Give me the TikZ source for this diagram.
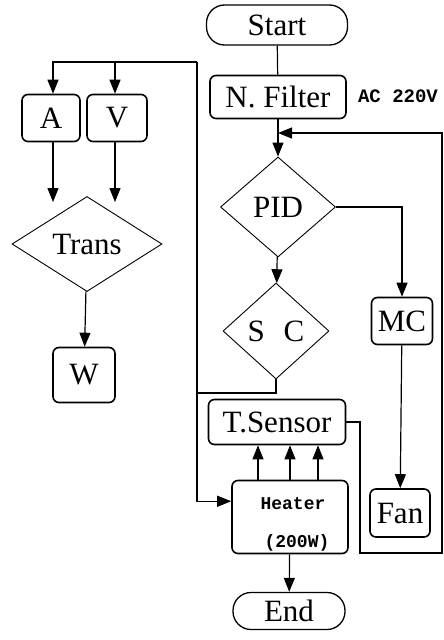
\documentclass[tikz,border=0pt]{standalone}
\usepackage{fontspec}
\setmainfont{Liberation Serif}
\setmonofont{Liberation Mono}
\usetikzlibrary{arrows.meta,shapes.geometric,calc}

\begin{document}
\begin{tikzpicture}[x=1pt,y=-1pt,
    every node/.style={font=\fontsize{31}{33}\selectfont},
    box/.style={draw,line width=1.6pt,rounded corners=6pt,inner sep=0pt},
    term/.style={draw,line width=1.3pt,rounded corners=18pt,inner sep=0pt},
    dec/.style={draw,diamond,line width=0.9pt,inner sep=0pt},
    arr/.style={line width=1.2pt,-{Triangle[length=14pt,width=11pt]}},
    lnk/.style={line width=1.2pt}]
  \useasboundingbox (0,0) rectangle (444,640);
  % main column
  \node[term,minimum width=141pt,minimum height=40pt] (start) at (277,25) {Start};
  \node[box,minimum width=136pt,minimum height=43pt] (filter) at (278,97) {N. Filter};
  \node[font=\fontsize{19}{21}\selectfont\ttfamily\bfseries] (ac) at (398,96) {AC 220V};
  \node[dec,minimum width=115pt,minimum height=100pt] (pid) at (278,207) {PID};
  \node[dec,minimum width=106pt,minimum height=96pt] (sc) at (276,331) {S\hspace{0.6em}C};
  \node[box,minimum width=137pt,minimum height=45pt] (sensor) at (277,422) {T.Sensor};
  \node[box,minimum width=116pt,minimum height=73pt,align=left,
        font=\fontsize{18}{38}\selectfont\ttfamily\bfseries] (heater) at (290,517)
    {\rule{0pt}{27pt}\hspace*{10pt}Heater\\\hspace*{14pt}(200W)};
  \node[term,minimum width=112pt,minimum height=37pt] (end) at (289,611) {End};
  % right branch
  \node[box,minimum width=61pt,minimum height=47pt] (mc) at (402,321) {MC};
  \node[box,minimum width=60pt,minimum height=48pt] (fan) at (400,513) {Fan};
  % left branch
  \node[box,minimum width=58pt,minimum height=47pt] (a) at (51,118) {A};
  \node[box,minimum width=60pt,minimum height=47pt] (v) at (117,118) {V};
  \node[dec,minimum width=150pt,minimum height=95pt] (trans) at (87,244) {Trans};
  \node[box,minimum width=62pt,minimum height=55pt] (w) at (84,375) {W};

  \coordinate (topL) at (197,62);
  \coordinate (join) at (197,393);
  \coordinate (fbA) at (360,553);
  \coordinate (fbB) at (442,553);
  \coordinate (fbC) at (442,133);

  \draw[lnk] (start) -- (filter);
  \draw[arr] (filter) -- (pid);
  \draw[arr] (pid) -- (sc);
  \draw[arr] (pid.east) -| (mc.north);
  \draw[arr] (mc) -- (fan);
  \draw[lnk] (sc.south) |- (join);
  \draw[arr] (topL) |- (heater.165);
  \draw[arr] (topL) -| ($(a.north)+(2,0)$);
  \draw[arr] ($(v.north |- topL)+(-2,0)$) -- ($(v.north)+(-2,0)$);
  \draw[arr] ($(a.south)+(2,0)$) -- ($(a.south |- trans.north)+(2,6)$);
  \draw[arr] ($(v.south)+(-2,0)$) -- ($(v.south |- trans.north)+(-2,6)$);
  \draw[arr] (trans) -- (w);
  \foreach \x in {258,290,318}
    \draw[arr] (\x,0 |- heater.north) -- (\x,0 |- sensor.south);
  \draw[arr] (heater) -- (end);
  \draw[arr] (sensor.east) -| (fbA) -- (fbB) -- (fbC) -- (fbC -| filter.south);
\end{tikzpicture}
\end{document}
